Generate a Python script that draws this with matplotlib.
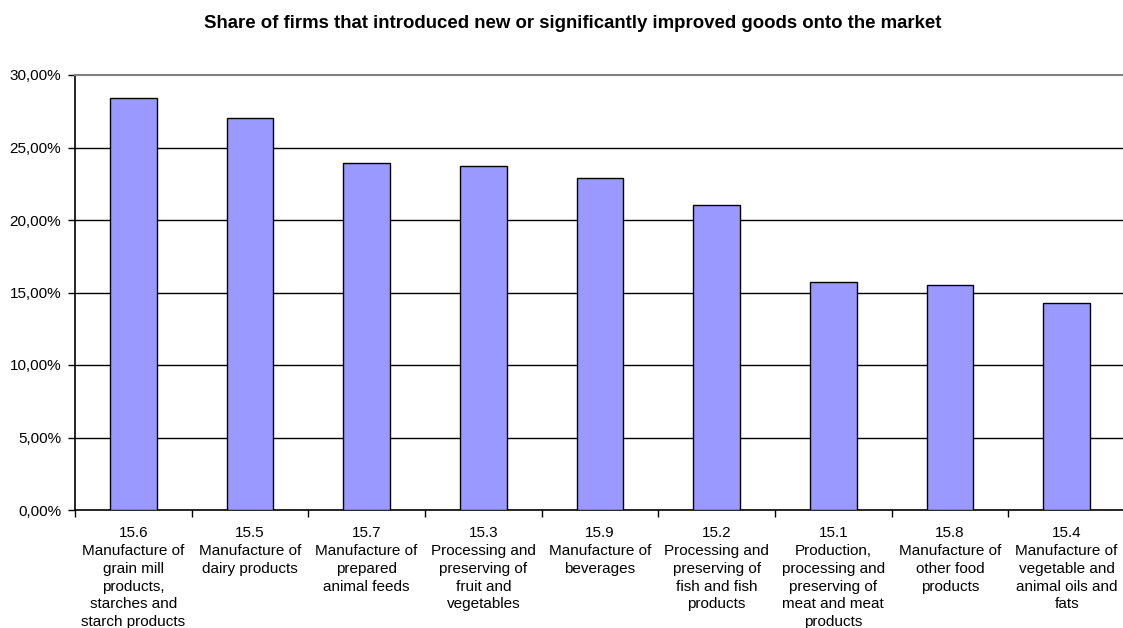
import matplotlib
matplotlib.use("Agg")
import matplotlib.pyplot as plt
from matplotlib.ticker import FuncFormatter, FixedLocator

plt.rcParams['font.family'] = ['Liberation Sans', 'DejaVu Sans']

codes = ["15.6", "15.5", "15.7", "15.3", "15.9", "15.2", "15.1", "15.8", "15.4"]
names = [
    "Manufacture of\ngrain mill\nproducts,\nstarches and\nstarch products",
    "Manufacture of\ndairy products",
    "Manufacture of\nprepared\nanimal feeds",
    "Processing and\npreserving of\nfruit and\nvegetables",
    "Manufacture of\nbeverages",
    "Processing and\npreserving of\nfish and fish\nproducts",
    "Production,\nprocessing and\npreserving of\nmeat and meat\nproducts",
    "Manufacture of\nother food\nproducts",
    "Manufacture of\nvegetable and\nanimal oils and\nfats",
]
shares = [28.41, 27.01, 23.91, 23.73, 22.90, 21.02, 15.71, 15.51, 14.29]
title = "Share of firms that introduced new or significantly improved goods onto the market"

W, H = 1123, 628
fig = plt.figure(figsize=(W / 100, H / 100), dpi=100)
ax = fig.add_axes([75 / W, (H - 510) / H, 1050 / W, (510 - 75) / H])

x = list(range(len(shares)))
ax.bar(x, shares, width=0.4, color="#9999FF", edgecolor="black", linewidth=1.0, zorder=3)

ax.set_xlim(-0.5, len(shares) - 0.5)
ax.set_ylim(0, 30)

ax.set_yticks([0, 5, 10, 15, 20, 25, 30])
ax.yaxis.set_major_formatter(FuncFormatter(lambda v, p: f"{v:.2f}%".replace(".", ",")))
for y in [5, 10, 15, 20, 25]:
    ax.axhline(y, color="black", linewidth=1.0, zorder=1)

# category boundaries carry the x ticks; labels sit at the bar centres
ax.xaxis.set_major_locator(FixedLocator([i + 0.5 for i in range(-1, len(shares))]))
ax.xaxis.set_major_formatter(FuncFormatter(lambda v, p: ""))
ax.set_xticks(x, minor=True)
ax.set_xticklabels([f"{c}\n{n}" for c, n in zip(codes, names)], minor=True,
                   fontsize=11, linespacing=1.35, va="top")
ax.tick_params(axis="x", which="minor", length=0, pad=11.5)
ax.tick_params(axis="x", which="major", length=5, width=1, color="black")
ax.tick_params(axis="y", length=5, width=1, pad=5, labelsize=11)

ax.spines["right"].set_visible(False)
ax.spines["top"].set_color("#808080")
ax.spines["top"].set_linewidth(1.5)
ax.spines["left"].set_linewidth(1.2)
ax.spines["bottom"].set_linewidth(1.2)

fig.text(573 / W, 1 - 23 / H, title, ha="center", va="center",
         fontsize=13.4, fontweight="bold")

fig.savefig("out.png", dpi=100)
